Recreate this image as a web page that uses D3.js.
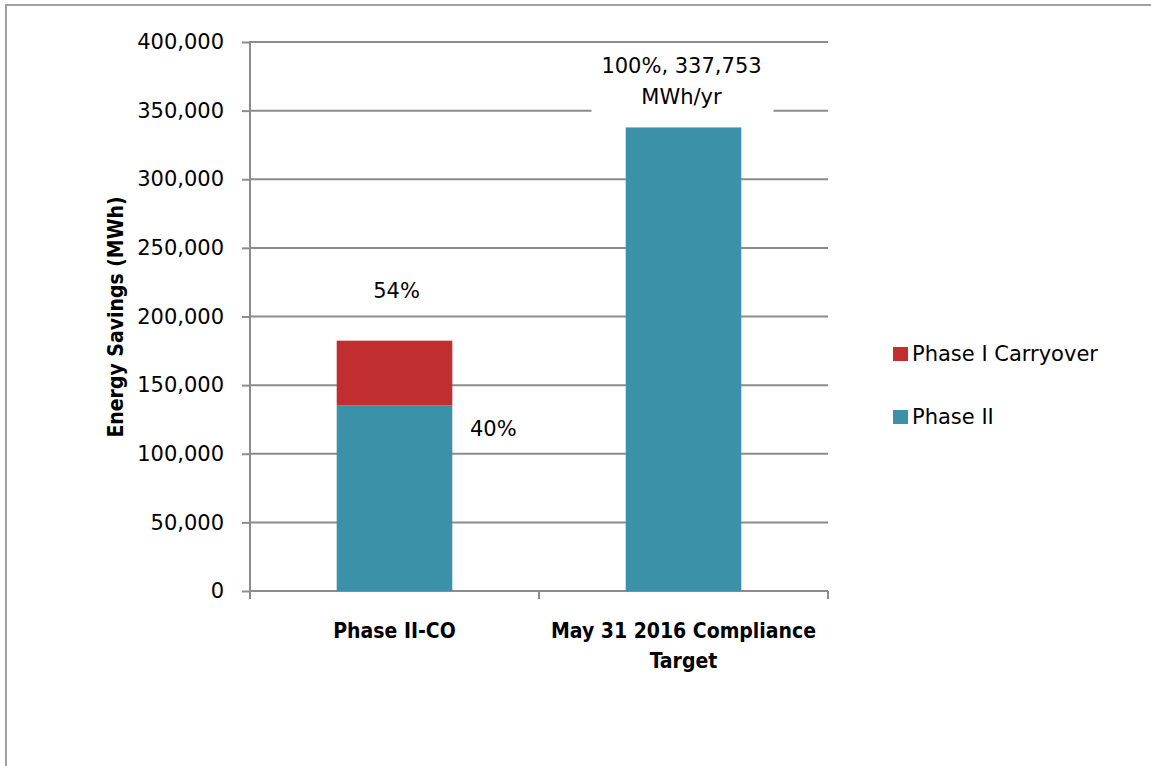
<!DOCTYPE html>
<html>
<head>
<meta charset="utf-8">
<script src="https://cdn.jsdelivr.net/npm/d3@7"></script>
<style>
  body { margin: 0; background: #fff; }
  svg text { font-family: "DejaVu Sans", sans-serif; fill: #000; }
  .bold { font-family: "DejaVu Sans Condensed", "DejaVu Sans", sans-serif; font-weight: bold; }
</style>
</head>
<body>
<div id="element"></div>
<script>
//________________________________DATA__________________________________
var categories = ["Phase II-CO", "May 31 2016 Compliance Target"];
var catLines = [["Phase II-CO"], ["May 31 2016 Compliance", "Target"]];
var phaseII = [135101, 337753];
var carryover = [47286, 0];
var seriesNames = ["Phase I Carryover", "Phase II"];
var yTicks = [0, 50000, 100000, 150000, 200000, 250000, 300000, 350000, 400000];
var pctLabels = ["54%", "40%", "100%, 337,753", "MWh/yr"];

(function () {
  var width = 1151,
      height = 766;

  var colors = { "Phase II": "#3b91a8", "Phase I Carryover": "#c12e30" };

  var svg = d3.select("#element")
    .append("svg")
    .attr("width", width)
    .attr("height", height);

  // outer chart border (runs off right/bottom edge like the original)
  svg.append("rect")
    .attr("x", 6).attr("y", 5)
    .attr("width", width).attr("height", height)
    .attr("fill", "#fff")
    .attr("stroke", "#a0a0a0")
    .attr("stroke-width", 2);

//_____________________________Scales___________________________________
  var y = d3.scaleLinear().domain([0, 400000]).range([591, 42]);
  var x = d3.scaleBand().domain(categories).range([250, 828]).padding(0);
  var barW = x.bandwidth() * 0.4;

//_____________________________Gridlines + y axis_______________________
  var yAxis = d3.axisLeft(y)
    .tickValues(yTicks)
    .tickSize(8)
    .tickPadding(18)
    .tickFormat(d3.format(","));

  var gy = svg.append("g")
    .attr("transform", "translate(250,0)")
    .call(yAxis);
  gy.select(".domain").remove();
  gy.selectAll(".tick line").attr("stroke", "#8c8c8c").attr("stroke-width", 2);
  gy.selectAll(".tick text")
    .attr("font-size", 21)
    .style("font-family", "DejaVu Sans");

  svg.append("g").selectAll("line")
    .data(yTicks)
    .enter().append("line")
    .attr("x1", 250).attr("x2", 828)
    .attr("y1", function (d) { return y(d); })
    .attr("y2", function (d) { return y(d); })
    .attr("stroke", "#8c8c8c")
    .attr("stroke-width", 2);

  // vertical axis line
  svg.append("line")
    .attr("x1", 250).attr("x2", 250)
    .attr("y1", y(400000) - 1).attr("y2", 599)
    .attr("stroke", "#8c8c8c").attr("stroke-width", 2);

  // category ticks
  svg.append("g").selectAll("line")
    .data([250, 250 + x.step(), 828])
    .enter().append("line")
    .attr("x1", function (d) { return d; })
    .attr("x2", function (d) { return d; })
    .attr("y1", 591).attr("y2", 599)
    .attr("stroke", "#8c8c8c").attr("stroke-width", 2);

//_____________________________Stacked bars_____________________________
  var rows = categories.map(function (c, i) {
    return { cat: c, "Phase II": phaseII[i], "Phase I Carryover": carryover[i] };
  });
  var stack = d3.stack().keys(["Phase II", "Phase I Carryover"])(rows);

  svg.append("g").selectAll("g")
    .data(stack)
    .enter().append("g")
    .attr("fill", function (d) { return colors[d.key]; })
    .selectAll("rect")
    .data(function (d) { return d; })
    .enter().append("rect")
    .attr("x", function (d) { return x(d.data.cat) + (x.bandwidth() - barW) / 2; })
    .attr("y", function (d) { return y(d[1]); })
    .attr("width", barW)
    .attr("height", function (d) { return y(d[0]) - y(d[1]); });

//_____________________________Data labels______________________________
  var c0 = x(categories[0]) + x.bandwidth() / 2;
  var c1 = x(categories[1]) + x.bandwidth() / 2;

  svg.append("text")
    .attr("x", c0 + 2).attr("y", y(phaseII[0] + carryover[0]) - 43)
    .attr("text-anchor", "middle").attr("font-size", 21)
    .text(pctLabels[0]);

  svg.append("text")
    .attr("x", c0 + barW / 2 + 41).attr("y", y(phaseII[0]) + 30)
    .attr("text-anchor", "middle").attr("font-size", 21)
    .text(pctLabels[1]);

  // white box behind the target label
  svg.append("rect")
    .attr("x", c1 - 92).attr("y", y(400000) + 1.5)
    .attr("width", 182).attr("height", 70)
    .attr("fill", "#fff");

  svg.append("text")
    .attr("x", c1 - 2).attr("y", y(phaseII[1]) - 54)
    .attr("text-anchor", "middle").attr("font-size", 21)
    .text(pctLabels[2]);
  svg.append("text")
    .attr("x", c1 - 2).attr("y", y(phaseII[1]) - 23)
    .attr("text-anchor", "middle").attr("font-size", 21)
    .text(pctLabels[3]);

//_____________________________Category labels__________________________
  svg.append("g").selectAll("text")
    .data(categories)
    .enter().append("text")
    .attr("class", "bold")
    .attr("text-anchor", "middle")
    .attr("font-size", 21)
    .attr("x", function (d) { return x(d) + x.bandwidth() / 2; })
    .attr("y", 638)
    .each(function (d, i) {
      var t = d3.select(this);
      catLines[i].forEach(function (line, j) {
        t.append("tspan")
          .attr("x", x(d) + x.bandwidth() / 2)
          .attr("dy", j === 0 ? 0 : 30)
          .text(line);
      });
    });

//_____________________________Y axis title_____________________________
  svg.append("text")
    .attr("class", "bold")
    .attr("font-size", 21)
    .attr("text-anchor", "middle")
    .attr("transform", "translate(123,317) rotate(-90)")
    .text("Energy Savings  (MWh)");

//_____________________________Legend___________________________________
  var legend = svg.append("g").selectAll("g")
    .data(seriesNames)
    .enter().append("g")
    .attr("transform", function (d, i) { return "translate(893," + (347 + i * 63) + ")"; });

  legend.append("rect")
    .attr("width", 15).attr("height", 14)
    .attr("fill", function (d) { return colors[d]; });

  legend.append("text")
    .attr("x", 19).attr("y", 14)
    .attr("font-size", 21)
    .text(function (d) { return d; });
})();
</script>
</body>
</html>
